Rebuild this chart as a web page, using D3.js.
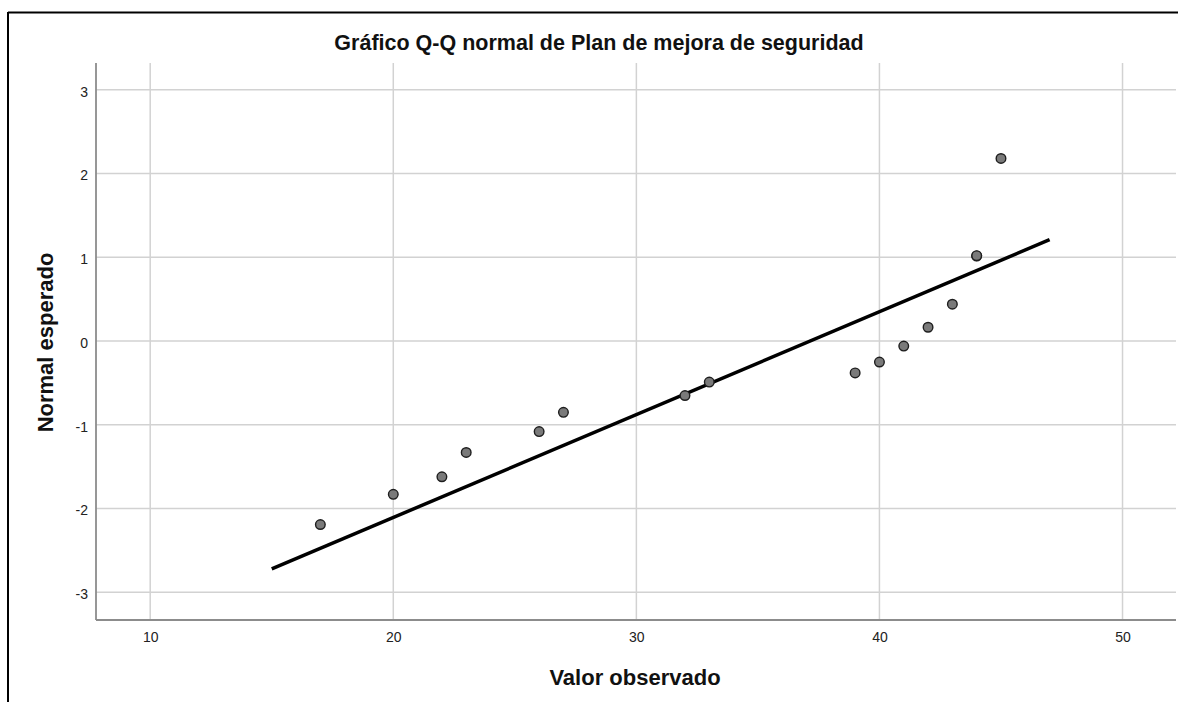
<!DOCTYPE html>
<html>
<head>
<meta charset="utf-8">
<script src="https://cdn.jsdelivr.net/npm/d3@7"></script>
<style>
  html, body { margin: 0; padding: 0; background: #fff; }
  svg { display: block; }
  text { font-family: "Liberation Sans", Arial, sans-serif; }
</style>
</head>
<body>
<svg id="chart" width="1178" height="702"></svg>
<script>
const title = "Gráfico Q-Q normal de Plan de mejora de seguridad";
const xLabel = "Valor observado";
const yLabel = "Normal esperado";
const xTicks = [10, 20, 30, 40, 50];
const yTicks = [-3, -2, -1, 0, 1, 2, 3];
const observed = [17, 20, 22, 23, 26, 27, 32, 33, 39, 40, 41, 42, 43, 44, 44, 45];
const expected = [-2.19, -1.83, -1.62, -1.33, -1.08, -0.85, -0.65, -0.49, -0.38, -0.25, -0.06, 0.165, 0.44, 1.015, 1.02, 2.18];
const lineX = [15, 47];
const lineY = [-2.72, 1.21];

const svg = d3.select("#chart");
const W = 1178, H = 702;
const plot = { left: 96, right: 1176, top: 63, bottom: 620 };

const x = d3.scaleLinear().domain([7.77, 52.2]).range([plot.left, plot.right]);
const y = d3.scaleLinear().domain([-3.33, 3.32]).range([plot.bottom, plot.top]);

// outer frame
svg.append("line").attr("x1", 8).attr("x2", W).attr("y1", 12.5).attr("y2", 12.5)
  .attr("stroke", "#000").attr("stroke-width", 2);
svg.append("line").attr("x1", 8).attr("x2", 8).attr("y1", 12).attr("y2", H)
  .attr("stroke", "#000").attr("stroke-width", 2);

// grid
const grid = svg.append("g");
grid.selectAll(".vg").data(xTicks).join("line")
  .attr("x1", d => x(d)).attr("x2", d => x(d))
  .attr("y1", plot.top).attr("y2", plot.bottom)
  .attr("stroke", "#d2d2d2").attr("stroke-width", 1.5);
grid.selectAll(".hg").data(yTicks).join("line")
  .attr("x1", plot.left).attr("x2", plot.right)
  .attr("y1", d => y(d)).attr("y2", d => y(d))
  .attr("stroke", "#d2d2d2").attr("stroke-width", 1.5);

// axes
const fmt = d => String(d);
const xAxis = d3.axisBottom(x).tickValues(xTicks).tickSize(0).tickPadding(12).tickFormat(fmt);
const yAxis = d3.axisLeft(y).tickValues(yTicks).tickSize(0).tickPadding(8).tickFormat(fmt);
const gx = svg.append("g").attr("transform", `translate(0,${plot.bottom})`).call(xAxis);
const gy = svg.append("g").attr("transform", `translate(${plot.left},0)`).call(yAxis);
[gx, gy].forEach(g => {
  g.select(".domain").attr("stroke", "#8c8c8c").attr("stroke-width", 1.8);
  g.selectAll("text").attr("font-size", 14).attr("fill", "#222")
    .attr("font-family", "'Liberation Sans', Arial, sans-serif");
});
gy.selectAll("text").attr("dy", "0.45em");
gx.select(".domain").attr("d", `M${plot.left},0H${plot.right}`);
gy.select(".domain").attr("d", `M0,${plot.top}V${plot.bottom}`);

// reference line
svg.append("line")
  .attr("x1", x(lineX[0])).attr("y1", y(lineY[0]))
  .attr("x2", x(lineX[1])).attr("y2", y(lineY[1]))
  .attr("stroke", "#000").attr("stroke-width", 3.5);

// points
svg.append("g").selectAll("circle").data(observed.map((v, i) => [v, expected[i]])).join("circle")
  .attr("cx", d => x(d[0])).attr("cy", d => y(d[1])).attr("r", 4.8)
  .attr("fill", "#7a7a7a").attr("stroke", "#1e1e1e").attr("stroke-width", 1.4);

// title and labels
svg.append("text").attr("x", 599).attr("y", 50).attr("text-anchor", "middle")
  .attr("font-size", 21.5).attr("font-weight", "bold").attr("fill", "#111").text(title);
svg.append("text").attr("x", 635).attr("y", 685).attr("text-anchor", "middle")
  .attr("font-size", 22).attr("font-weight", "bold").attr("fill", "#111").text(xLabel);
svg.append("text").attr("transform", "translate(53,342.5) rotate(-90)").attr("text-anchor", "middle")
  .attr("font-size", 22).attr("font-weight", "bold").attr("fill", "#111").text(yLabel);
</script>
</body>
</html>
